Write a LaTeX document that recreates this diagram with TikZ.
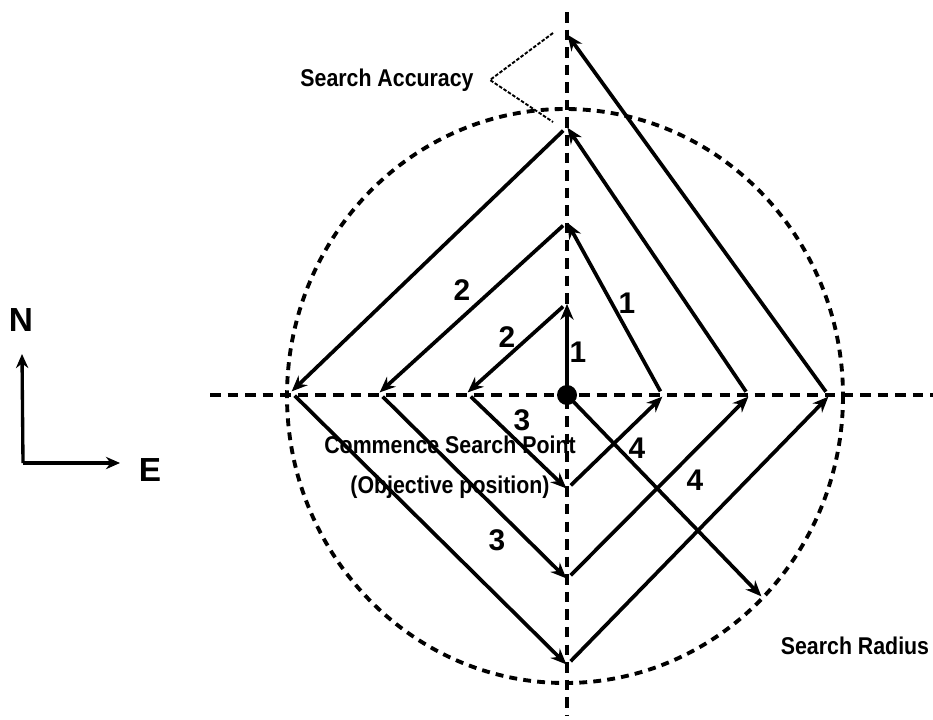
\documentclass[tikz,border=0pt]{standalone}
\usepackage{fontspec}
\setmainfont{Liberation Sans}
\usetikzlibrary{arrows.meta}
\newcommand\squeeze[1]{\scalebox{0.88}[1]{#1}}

\begin{document}
\begin{tikzpicture}[x=0.02cm, y=-0.02cm,
    axis/.style={line width=2.5pt, dash pattern=on 6pt off 4pt},
    ring/.style={line width=2.2pt, dash pattern=on 4.5pt off 3.5pt},
    leg/.style={line width=2.1pt, -{Stealth[length=9pt, width=7.5pt]}, shorten <=3pt, shorten >=0.5pt},
    leader/.style={line width=1.1pt, dash pattern=on 2pt off 1pt},
    txt/.style={font=\bfseries\fontsize{13.8}{16}\selectfont},
    num/.style={font=\bfseries\fontsize{17}{20}\selectfont}]
    \useasboundingbox (0,0) rectangle (933,720);
    % Achsen und Suchradius
    \draw[axis] (210,395) -- (933,395);
    \draw[axis] (567,12) -- (567,715);
    \draw[ring] (565,396) ellipse [x radius=278, y radius=287];
    % Eckpunkte der Suche
    \coordinate (C) at (567,395);
    \coordinate (N1) at (567,303);
    \coordinate (W1) at (467,393);
    \coordinate (S1) at (567,489);
    \coordinate (E1) at (663,396);
    \coordinate (N2) at (567,222);
    \coordinate (W2) at (379,393);
    \coordinate (S2) at (567,579);
    \coordinate (E2) at (749,396);
    \coordinate (N3) at (567,127);
    \coordinate (W3) at (291,392);
    \coordinate (S3) at (567,665);
    \coordinate (E3) at (829,396);
    \coordinate (N4) at (567,34);
    \coordinate (R) at (762,597);
    % Suchmuster
    \foreach \a/\b in {C/N1, N1/W1, W1/S1, S1/E1, E1/N2, N2/W2, W2/S2, S2/E2,
                       E2/N3, N3/W3, W3/S3, S3/E3, E3/N4}
      \draw[leg] (\a) -- (\b);
    \draw[leg] (C) -- (R);
    \fill (C) circle [radius=10];
    % Nummern der Schenkel
    \node[num] (l1a) at (578,352) {1};
    \node[num] (l2a) at (507,337) {2};
    \node[num] (l3a) at (522,420) {3};
    \node[num] (l4a) at (637,448) {4};
    \node[num] (l1b) at (627,303) {1};
    \node[num] (l2b) at (462,290) {2};
    \node[num] (l3b) at (497,540) {3};
    \node[num] (l4b) at (695,480) {4};
    % Beschriftungen
    \node[txt] (acc) at (387,80) {\squeeze{Search Accuracy}};
    \coordinate (tip) at (490,80);
    \coordinate (accN) at (553,33);
    \coordinate (accS) at (553,122);
    \draw[leader] (accN) -- (tip) -- (accS);
    \node[txt] (csp) at (450,445) {\squeeze{Commence Search Point}};
    \node[txt] (obj) at (450,487) {\squeeze{(Objective position)}};
    \node[txt] (rad) at (855,646) {\squeeze{Search Radius}};
    % Nordpfeil
    \coordinate (o) at (23,463);
    \coordinate (up) at (22,354);
    \coordinate (right) at (120,463);
    \draw[line width=1.9pt, -{Stealth[length=8pt, width=7pt]}] (o) -- (up);
    \draw[line width=1.9pt, -{Stealth[length=8pt, width=7pt]}] (o) -- (right);
    \node[font=\bfseries\fontsize{19}{22}\selectfont] (north) at (21,320) {N};
    \node[font=\bfseries\fontsize{19}{22}\selectfont] (east) at (150,470) {E};
\end{tikzpicture}
\end{document}
